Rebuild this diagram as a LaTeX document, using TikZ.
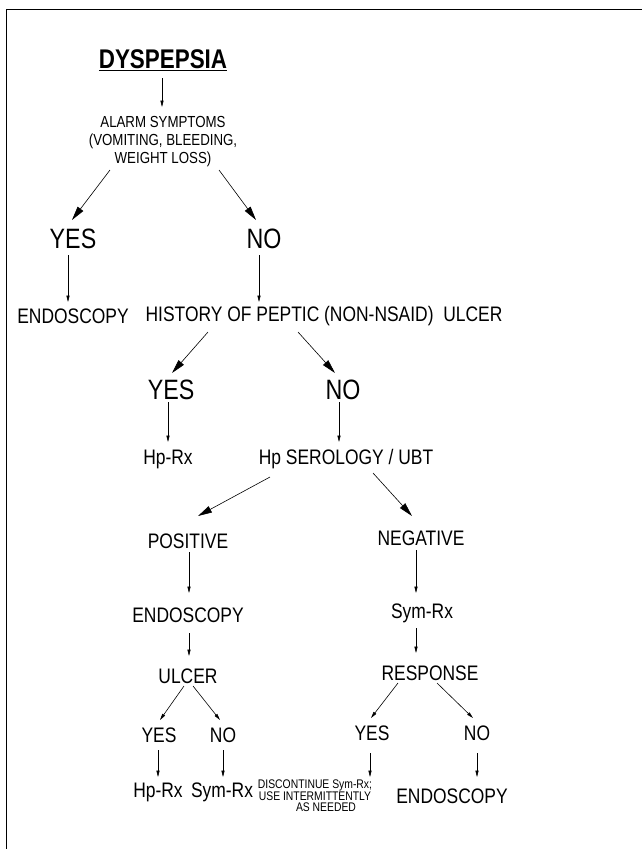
\documentclass[tikz,border=0pt]{standalone}
\usepackage{fontspec}
\setmainfont[FakeStretch=0.83]{Liberation Sans}
\usetikzlibrary{arrows.meta}
\begin{document}
\begin{tikzpicture}[x=1pt,y=-1pt,
  lbl/.style={inner sep=0pt,align=center,font=\fontsize{21}{24}\selectfont},
  big/.style={inner sep=0pt,font=\fontsize{28}{32}\selectfont},
  small/.style={inner sep=0pt,align=center,font=\fontsize{16}{18}\selectfont},
  tiny/.style={inner sep=0pt,align=center,font=\fontsize{12.5}{11.5}\selectfont},
  con/.style={line width=0.6pt},
  bigarr/.style={con,-{Triangle[length=14pt,width=7pt]}},
  smarr/.style={con,-{Triangle[length=6.5pt,width=3.2pt]}}]
\useasboundingbox (0,0) rectangle (642,849);
% frame
\draw[line width=0.9pt] (6,849) -- (6,9.5) -- (642,9.5);
% nodes
\node[inner sep=0pt,font=\fontsize{27}{30}\selectfont\bfseries] (dys) at (163,60) {\underline{DYSPEPSIA}};
\node[small] (alarm) at (163,142) {ALARM SYMPTOMS\\(VOMITING, BLEEDING,\\WEIGHT LOSS)};
\node[big] (yes1) at (73,239) {YES};
\node[big] (no1) at (264,239) {NO};
\node[lbl] (endo1) at (73,316) {ENDOSCOPY};
\node[lbl] (hist) at (324,316) {HISTORY OF PEPTIC (NON-NSAID)\ \ ULCER};
\node[big] (yes2) at (171,390) {YES};
\node[big] (no2) at (343,390) {NO};
\node[lbl] (hprx1) at (168,459) {Hp-Rx};
\node[lbl] (sero) at (346,459) {Hp SEROLOGY / UBT};
\node[lbl] (pos) at (188,541) {POSITIVE};
\node[lbl] (neg) at (421,538) {NEGATIVE};
\node[lbl] (endo2) at (188,615) {ENDOSCOPY};
\node[lbl] (symrx1) at (422,613) {Sym-Rx};
\node[lbl] (ulcer) at (188,676) {ULCER};
\node[lbl] (resp) at (430,673) {RESPONSE};
\node[lbl] (yes3) at (159,735) {YES};
\node[lbl] (no3) at (223,735) {NO};
\node[lbl] (hprx2) at (158,792) {Hp-Rx};
\node[lbl] (symrx2) at (222,792) {Sym-Rx};
\node[lbl] (yes4) at (372,733) {YES};
\node[lbl] (no4) at (477,733) {NO};
\node[tiny] (disc) at (315,796) {DISCONTINUE Sym-Rx;\\USE INTERMITTENTLY\\\hspace*{22pt}AS NEEDED};
\node[lbl] (endo3) at (452,796) {ENDOSCOPY};
% connectors
\draw[smarr] ([shift={(-1,18)}]dys.center) -- ([shift={(-1,-35)}]alarm.center);
\draw[bigarr] ([shift={(-53,28)}]alarm.center) -- ([shift={(-1,-19)}]yes1.center);
\draw[bigarr] ([shift={(56,28)}]alarm.center) -- ([shift={(-8,-19)}]no1.center);
\draw[smarr] ([shift={(-5,16)}]yes1.center) -- ([shift={(-5,-14)}]endo1.center);
\draw[smarr] ([shift={(-5,16)}]no1.center) -- ([shift={(-65,-14)}]hist.center);
\draw[bigarr] ([shift={(-116,16)}]hist.center) -- ([shift={(1,-17)}]yes2.center);
\draw[bigarr] ([shift={(-26,16)}]hist.center) -- ([shift={(-8,-17)}]no2.center);
\draw[smarr] ([shift={(-3,12)}]yes2.center) -- ([shift={(0,-17)}]hprx1.center);
\draw[smarr] ([shift={(-4,12)}]no2.center) -- ([shift={(-7,-17)}]sero.center);
\draw[bigarr] ([shift={(-76,18)}]sero.center) -- ([shift={(10,-25)}]pos.center);
\draw[bigarr] ([shift={(27,14)}]sero.center) -- ([shift={(-9,-22)}]neg.center);
\draw[smarr] ([shift={(1,11)}]pos.center) -- ([shift={(1,-22)}]endo2.center);
\draw[smarr] ([shift={(-5,12)}]neg.center) -- ([shift={(-6,-20)}]symrx1.center);
\draw[smarr] ([shift={(1,18)}]endo2.center) -- ([shift={(1,-20)}]ulcer.center);
\draw[smarr] ([shift={(-6,15)}]symrx1.center) -- ([shift={(-14,-20)}]resp.center);
\draw[smarr] ([shift={(-4,10)}]ulcer.center) -- ([shift={(1,-15)}]yes3.center);
\draw[smarr] ([shift={(5,10)}]ulcer.center) -- ([shift={(-3,-15)}]no3.center);
\draw[smarr] ([shift={(-1,15)}]yes3.center) -- ([shift={(0,-15)}]hprx2.center);
\draw[smarr] ([shift={(0,15)}]no3.center) -- ([shift={(1,-15)}]symrx2.center);
\draw[smarr] ([shift={(-32,10)}]resp.center) -- ([shift={(-1,-15)}]yes4.center);
\draw[smarr] ([shift={(7,10)}]resp.center) -- ([shift={(-4,-15)}]no4.center);
\draw[smarr] ([shift={(-2,20)}]yes4.center) -- ([shift={(55,-19)}]disc.center);
\draw[smarr] ([shift={(0,20)}]no4.center) -- ([shift={(25,-19)}]endo3.center);
\end{tikzpicture}
\end{document}
